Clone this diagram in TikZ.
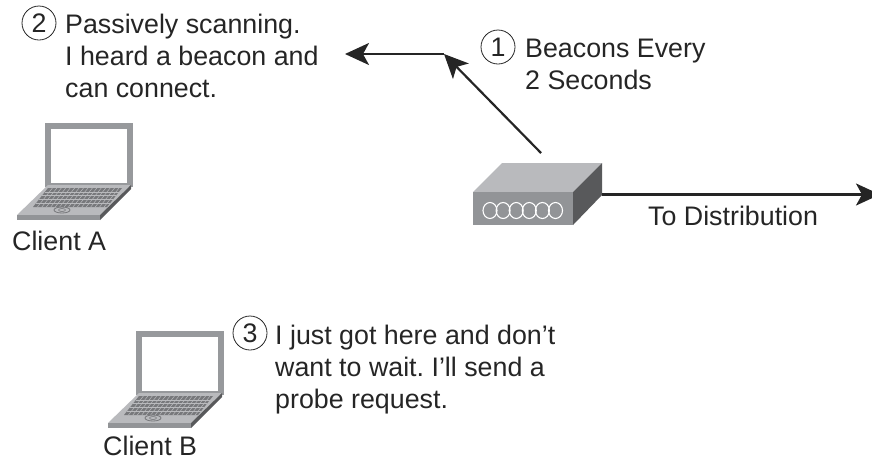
\documentclass[tikz,border=0pt]{standalone}
\usepackage{fontspec}
\setmainfont{Liberation Sans}
\usetikzlibrary{arrows.meta,calc}
\definecolor{ink}{HTML}{252525}
\definecolor{lidg}{HTML}{97999C}
\definecolor{topg}{HTML}{B9BABD}
\definecolor{frontg}{HTML}{929497}
\definecolor{darkg}{HTML}{58595B}
\definecolor{keyg}{HTML}{77787B}
\tikzset{
  lbl/.style={font=\fontsize{26.8}{32}\selectfont\frenchspacing,text=ink,align=left,inner sep=0pt,anchor=base west},
  num/.style={circle,draw=ink,line width=0.8pt,minimum size=34pt,inner sep=0pt,font=\fontsize{26.8}{26.8}\selectfont,text=ink},
  conn/.style={draw=ink,line width=2.2pt,-{Stealth[length=24pt,width=22pt,inset=6pt]}},
  laptop/.pic={
    \fill[lidg] (28,-97) -- (116,-97) -- (116,-33) -- (28,-33) -- cycle;
    \fill[white] (34,-91) -- (110,-91) -- (110,-37) -- (34,-37) -- cycle;
    \fill[topg] (0,-5) -- (83,-5) -- (114,-35) -- (31,-35) -- cycle;
    \fill[frontg] (0,-5) -- (83,-5) -- (83,0) -- (0,0) -- cycle;
    \fill[darkg] (83,-5) -- (114,-35) -- (114,-31) -- (83,0) -- cycle;
    \fill[keyg] (31,-32) -- (105,-32) -- (90,-13) -- (16,-13) -- cycle;
    \foreach \t in {0.2,0.4,0.6,0.8}
      \draw[topg,line width=0.6pt] ($(31,-32)!\t!(16,-13)$) -- ($(105,-32)!\t!(90,-13)$);
    \foreach \t in {0.06,0.12,...,0.96}
      \draw[topg,line width=0.5pt] ($(31,-32)!\t!(105,-32)$) -- ($(16,-13)!\t!(90,-13)$);
    \draw[keyg,line width=0.8pt] (45,-10) ellipse (8pt and 3pt);
    \draw[keyg,line width=0.6pt] (45,-10) ellipse (3.5pt and 1.5pt);
  }
}
\begin{document}
\begin{tikzpicture}[x=1pt,y=-1pt]
\useasboundingbox (0,0) rectangle (872,459);
% router
\fill[topg] (473,192) -- (502,163) -- (602,163) -- (573,192) -- cycle;
\fill[frontg] (473,192) rectangle (573,225);
\fill[darkg] (573,192) -- (602,163) -- (602,195) -- (573,225) -- cycle;
\foreach \i in {0,...,5}
  \draw[white,line width=1.1pt] (490+13.1*\i,210.5) ellipse (7pt and 8pt);
% connector anchors
\coordinate (radio) at (541,153);
\coordinate (corner) at (444,54);
\coordinate (clientside) at (345,54);
\coordinate (rport) at (602,194.5);
\coordinate (dist) at (880,194.5);
\draw[conn] (corner) -- (clientside);
\draw[conn] (radio) -- (corner);
\draw[conn] (rport) -- (dist);
% labels
\node[num] (n1) at (498,47) {1};
\node[lbl] (t1) at (525,89) {Beacons Every\\2 Seconds};
\node[num] (n2) at (39,23) {2};
\node[lbl] (t2) at (65,97) {Passively scanning.\\I heard a beacon and\\can connect.};
\node[num] (n3) at (250,333) {3};
\node[lbl] (t3) at (275,408) {I just got here and don’t\\want to wait. I’ll send a\\probe request.};
\node[lbl] (dl) at (648,225) {To Distribution};
\pic at (17,220) {laptop};
\pic at (108,428) {laptop};
\node[lbl] (ca) at (12,250) {Client A};
\node[lbl] (cb) at (103,455) {Client B};
\end{tikzpicture}
\end{document}
